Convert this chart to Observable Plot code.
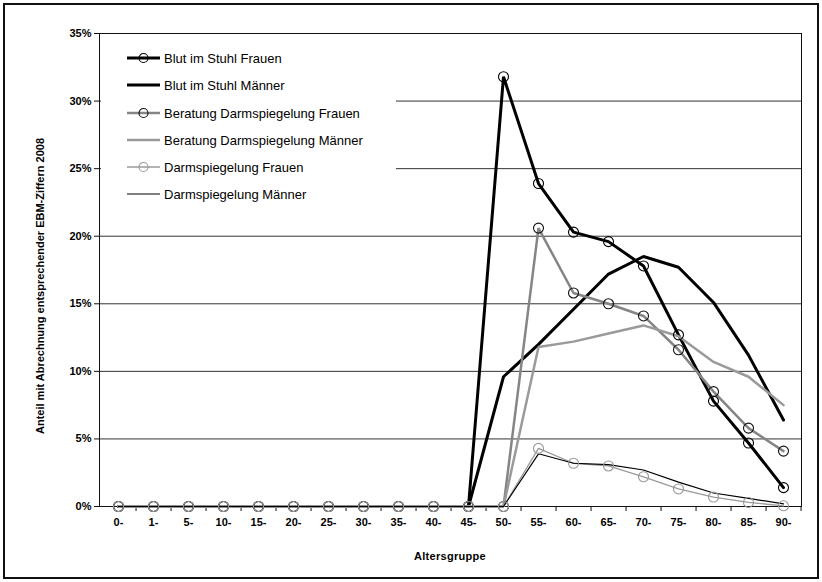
<!DOCTYPE html>
<html>
<head>
<meta charset="utf-8">
<script src="https://cdn.jsdelivr.net/npm/d3@7"></script>
<script src="https://cdn.jsdelivr.net/npm/@observablehq/plot@0.6"></script>
<style>
  html, body { margin: 0; padding: 0; background: #fff; }
  body { width: 822px; height: 582px; position: relative; overflow: hidden; font-family: "Liberation Sans", Arial, sans-serif; }
  #frame { position: absolute; left: 3px; top: 3px; width: 816px; height: 576px; border: 2px solid #111; box-sizing: border-box; pointer-events: none; }
  #chart { position: absolute; left: 0; top: 0; }
  #legend { position: absolute; left: 101px; top: 45px; width: 295px; height: 162px; background: #fff; }
  .row { position: absolute; left: 26px; height: 20px; display: flex; align-items: center; font-size: 13px; color: #000; white-space: nowrap; }
  .row svg { margin-right: 3px; }
  #xlabel { position: absolute; left: 350px; width: 200px; top: 550px; text-align: center; font-weight: bold; font-size: 11px; letter-spacing: 0.3px; }
  #ylabel { position: absolute; left: 40px; top: 286px; transform: translate(-50%, -50%) rotate(-90deg); white-space: nowrap; font-weight: bold; font-size: 11px; }
</style>
</head>
<body>
<div id="chart"></div>
<div id="legend"></div>
<div id="xlabel">Altersgruppe</div>
<div id="ylabel">Anteil mit Abrechnung entsprechender EBM-Ziffern 2008</div>
<div id="frame"></div>
<script>
const categories = ["0-","1-","5-","10-","15-","20-","25-","30-","35-","40-","45-","50-","55-","60-","65-","70-","75-","80-","85-","90-"];
const yTicks = [0, 5, 10, 15, 20, 25, 30, 35];
const gridLines = [5, 10, 15, 20, 25, 30, 35];

const blutFrauen       = [0,0,0,0,0,0,0,0,0,0,0, 31.8, 23.9, 20.3, 19.6, 17.8, 12.7, 7.8, 4.7, 1.4];
const blutMaenner      = [0,0,0,0,0,0,0,0,0,0,0, 9.6, 12.0, 14.6, 17.2, 18.5, 17.7, 15.1, 11.2, 6.4];
const beratungFrauen   = [0,0,0,0,0,0,0,0,0,0,0, 0, 20.6, 15.8, 15.0, 14.1, 11.6, 8.5, 5.8, 4.1];
const beratungMaenner  = [0,0,0,0,0,0,0,0,0,0,0, 0, 11.8, 12.2, 12.8, 13.4, 12.6, 10.7, 9.6, 7.5];
const darmFrauen       = [0,0,0,0,0,0,0,0,0,0,0, 0, 4.3, 3.2, 3.0, 2.2, 1.3, 0.7, 0.3, 0.05];
const darmMaenner      = [0,0,0,0,0,0,0,0,0,0,0, 0, 3.9, 3.2, 3.1, 2.7, 1.8, 1.0, 0.6, 0.2];

const seriesNames = [
  "Blut im Stuhl Frauen",
  "Blut im Stuhl Männer",
  "Beratung Darmspiegelung Frauen",
  "Beratung Darmspiegelung Männer",
  "Darmspiegelung Frauen",
  "Darmspiegelung Männer"
];
const seriesValues = [blutFrauen, blutMaenner, beratungFrauen, beratungMaenner, darmFrauen, darmMaenner];
const styles = [
  {stroke: "#000", width: 3, marker: "#000"},
  {stroke: "#000", width: 3, marker: null},
  {stroke: "#858585", width: 2.5, marker: "#111"},
  {stroke: "#9a9a9a", width: 2.5, marker: null},
  {stroke: "#9a9a9a", width: 1.3, marker: "#999"},
  {stroke: "#000", width: 1.2, marker: null}
];

const series = seriesNames.map((name, i) => ({
  name, style: styles[i],
  data: categories.map((c, j) => ({cat: c, value: seriesValues[i][j]}))
}));

const W = 822, H = 582, ML = 99, MR = 21, MT = 33, MB = 76;
const step = (W - ML - MR) / categories.length;

const marks = [
  Plot.ruleY(gridLines, {stroke: "#333", strokeWidth: 1}),
  Plot.frame({stroke: "#111", strokeWidth: 1}),
  Plot.axisY({ticks: yTicks, tickFormat: d => d + "%", tickSize: 5, tickPadding: 3, fontWeight: "bold", fontSize: 11, label: null, stroke: "#111"}),
  Plot.axisX({ticks: categories, tickSize: 0, tickPadding: 12, fontWeight: "bold", fontSize: 11, label: null}),
  Plot.axisX({ticks: categories, tickSize: 5, dx: step / 2, tickFormat: () => "", label: null, stroke: "#111"})
];
for (const s of series) {
  marks.push(Plot.line(s.data, {x: "cat", y: "value", stroke: s.style.stroke, strokeWidth: s.style.width, strokeLinejoin: "miter"}));
}
for (const s of series) {
  if (s.style.marker) {
    marks.push(Plot.dot(s.data, {x: "cat", y: "value", r: 5, fill: "none", stroke: s.style.marker, strokeWidth: 1.1}));
  }
}

const chart = Plot.plot({
  width: W, height: H,
  marginLeft: ML, marginRight: MR, marginTop: MT, marginBottom: MB,
  style: {fontFamily: "'Liberation Sans', Arial, sans-serif", color: "#000", background: "transparent", overflow: "visible"},
  x: {type: "point", domain: categories, padding: 0.5},
  y: {domain: [0, 35]},
  marks
});
document.getElementById("chart").appendChild(chart);

const legend = document.getElementById("legend");
const rowTops = [3, 30, 58, 85, 112, 139];
series.forEach((s, i) => {
  const row = document.createElement("div");
  row.className = "row";
  row.style.top = rowTops[i] + "px";
  const ns = "http://www.w3.org/2000/svg";
  const svg = document.createElementNS(ns, "svg");
  svg.setAttribute("width", 34); svg.setAttribute("height", 14);
  const line = document.createElementNS(ns, "line");
  line.setAttribute("x1", 0); line.setAttribute("x2", 33);
  line.setAttribute("y1", 7); line.setAttribute("y2", 7);
  line.setAttribute("stroke", s.style.stroke);
  line.setAttribute("stroke-width", s.style.width);
  svg.appendChild(line);
  if (s.style.marker) {
    const c = document.createElementNS(ns, "circle");
    c.setAttribute("cx", 16.5); c.setAttribute("cy", 7); c.setAttribute("r", 4.5);
    c.setAttribute("fill", "none");
    c.setAttribute("stroke", s.style.marker); c.setAttribute("stroke-width", 1.1);
    svg.appendChild(c);
  }
  row.appendChild(svg);
  const t = document.createElement("span");
  t.textContent = s.name;
  row.appendChild(t);
  legend.appendChild(row);
});
</script>
</body>
</html>
